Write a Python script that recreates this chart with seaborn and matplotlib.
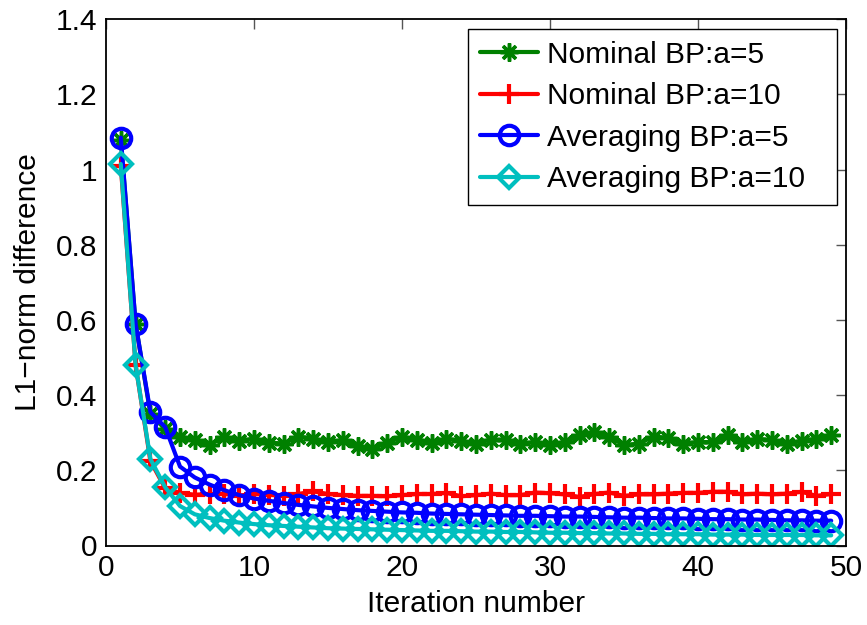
import matplotlib
matplotlib.use("Agg")
import matplotlib.pyplot as plt
import seaborn as sns
import numpy as np

iterations = list(range(1, 50))

nominal_a5 = [1.08, 0.59, 0.35, 0.31, 0.289, 0.282, 0.268, 0.290, 0.278, 0.284,
              0.274, 0.271, 0.290, 0.284, 0.275, 0.280, 0.264, 0.258, 0.273, 0.289,
              0.282, 0.273, 0.284, 0.278, 0.271, 0.282, 0.282, 0.271, 0.275, 0.267,
              0.275, 0.293, 0.302, 0.290, 0.267, 0.271, 0.290, 0.286, 0.271, 0.275,
              0.275, 0.293, 0.275, 0.284, 0.280, 0.271, 0.278, 0.284, 0.295]

nominal_a10 = [1.01, 0.48, 0.225, 0.152, 0.140, 0.135, 0.137, 0.137, 0.133, 0.137,
               0.135, 0.132, 0.137, 0.144, 0.137, 0.134, 0.132, 0.132, 0.131, 0.134,
               0.137, 0.137, 0.140, 0.131, 0.134, 0.138, 0.134, 0.134, 0.141, 0.139,
               0.136, 0.129, 0.137, 0.141, 0.132, 0.136, 0.136, 0.138, 0.140, 0.140,
               0.143, 0.143, 0.136, 0.138, 0.136, 0.138, 0.143, 0.132, 0.137]

averaging_a5 = [1.085, 0.59, 0.355, 0.315, 0.210, 0.181, 0.162, 0.147, 0.134, 0.125,
                0.119, 0.113, 0.108, 0.104, 0.100, 0.097, 0.094, 0.092, 0.090, 0.088,
                0.087, 0.085, 0.084, 0.083, 0.082, 0.081, 0.080, 0.079, 0.079, 0.078,
                0.077, 0.077, 0.076, 0.075, 0.074, 0.074, 0.073, 0.072, 0.072, 0.071,
                0.070, 0.070, 0.069, 0.069, 0.068, 0.067, 0.067, 0.066, 0.066]

averaging_a10 = [1.015, 0.48, 0.23, 0.155, 0.105, 0.083, 0.073, 0.066, 0.061, 0.057,
                 0.054, 0.052, 0.050, 0.048, 0.046, 0.045, 0.044, 0.043, 0.042, 0.041,
                 0.040, 0.039, 0.039, 0.038, 0.037, 0.037, 0.036, 0.036, 0.035, 0.034,
                 0.034, 0.033, 0.033, 0.032, 0.032, 0.031, 0.031, 0.030, 0.030, 0.030,
                 0.029, 0.029, 0.029, 0.028, 0.028, 0.028, 0.028, 0.027, 0.027]

labels = ["Nominal BP:a=5", "Nominal BP:a=10", "Averaging BP:a=5", "Averaging BP:a=10"]
x_ticks = [0, 10, 20, 30, 40, 50]
y_ticks = [0, 0.2, 0.4, 0.6, 0.8, 1.0, 1.2, 1.4]
y_ticklabels = ["0", "0.2", "0.4", "0.6", "0.8", "1", "1.2", "1.4"]

sns.set_theme(style="white")
plt.rcParams["font.family"] = ["Liberation Sans", "DejaVu Sans"]
plt.rcParams["text.color"] = "black"
plt.rcParams["axes.labelcolor"] = "black"

fig = plt.figure(figsize=(8.67, 6.25), dpi=100)
ax = fig.add_axes([106 / 867, (625 - 545.5) / 625, 740 / 867, 526.2 / 625])

styles = [
    dict(color="#008000", marker=(8, 2, 0), markersize=13, mfc="#008000", mew=2.5),
    dict(color="#ff0000", marker="+", markersize=15, mfc="#ff0000", mew=3),
    dict(color="#0000ff", marker="o", markersize=14, mfc="none", mew=3),
    dict(color="#00bfbf", marker="D", markersize=11, mfc="none", mew=3),
]
series = [nominal_a5, nominal_a10, averaging_a5, averaging_a10]

for vals, lab, st in zip(series, labels, styles):
    sns.lineplot(x=iterations, y=vals, ax=ax, color=st["color"], marker=st["marker"],
                 markersize=st["markersize"], markerfacecolor=st["mfc"],
                 markeredgecolor=st["color"], markeredgewidth=st["mew"],
                 linewidth=3, label=lab, legend=False)

ax.set_xlim(0, 50)
ax.set_ylim(0, 1.4)
ax.set_xticks(x_ticks)
ax.set_xticklabels([str(t) for t in x_ticks])
ax.set_yticks(y_ticks)
ax.set_yticklabels(y_ticklabels)
ax.tick_params(axis="both", direction="in", length=7, width=1, color="#555555",
               labelsize=21.5, labelcolor="black", top=True, right=True, pad=6)
for sp in ax.spines.values():
    sp.set_visible(True)
    sp.set_color("black")
    sp.set_linewidth(1.3)
ax.set_xlabel("Iteration number", fontsize=21.5, labelpad=6, color="black")
ax.set_ylabel("L1\u2212norm difference", fontsize=21.5, labelpad=10, color="black")

x0 = (468 - 106) / 740
x1 = (837 - 106) / 740
ytop = (545.5 - 29) / 526.2
leg = ax.legend(loc="upper right", bbox_to_anchor=(x0, 0.5, x1 - x0, ytop - 0.5),
                mode="expand", borderaxespad=0, fontsize=21.5, frameon=True,
                fancybox=False, framealpha=1, edgecolor="black", handlelength=1.95,
                handletextpad=0.3, labelspacing=0.45, borderpad=0.4)
leg.get_frame().set_linewidth(1.0)

fig.savefig("out.png", dpi=100)
